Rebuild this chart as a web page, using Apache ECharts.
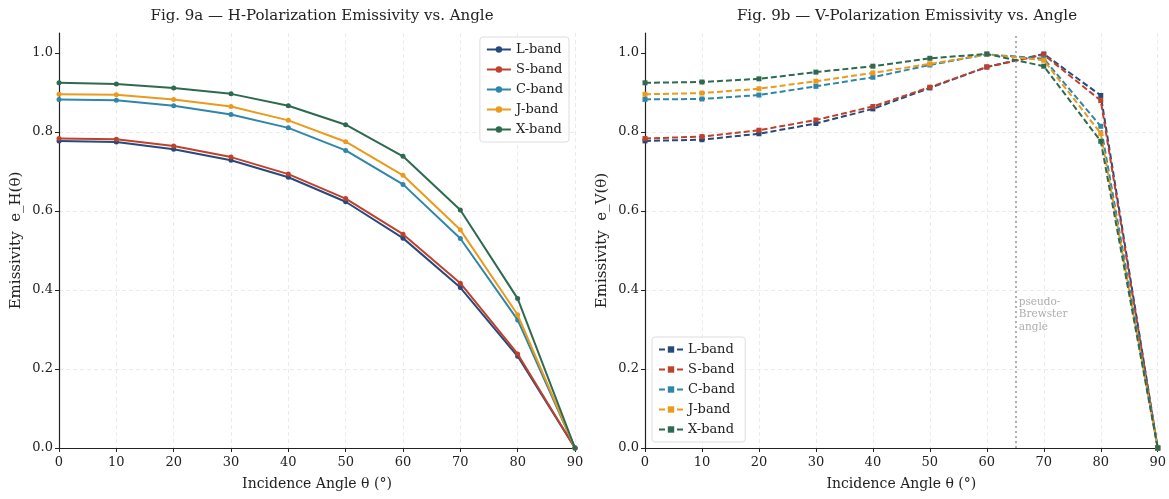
<!DOCTYPE html>
<html><head><meta charset="utf-8">
<script src="https://cdn.jsdelivr.net/npm/echarts@6/dist/echarts.min.js"></script>
<style>html,body{margin:0;padding:0;background:#fff}#c{width:1169px;height:499px}</style>
</head><body><div id="c"></div>
<script>
const angles = [0,10,20,30,40,50,60,70,80,90];
const bands = ['L-band','S-band','C-band','J-band','X-band'];
const colors = ['#274a7c','#c0412b','#2e86ab','#eb9a1c','#2d6a4f'];
const yTicks = [0,0.2,0.4,0.6,0.8,1.0];
const xTicks = [0,10,20,30,40,50,60,70,80,90];
// H-polarization
const hL = [0.777,0.774,0.756,0.728,0.685,0.623,0.531,0.406,0.232,0];
const hS = [0.783,0.781,0.764,0.736,0.693,0.631,0.541,0.417,0.238,0];
const hC = [0.882,0.880,0.866,0.844,0.810,0.753,0.667,0.530,0.324,0];
const hJ = [0.895,0.894,0.882,0.864,0.829,0.775,0.690,0.552,0.337,0];
const hX = [0.924,0.921,0.911,0.896,0.866,0.818,0.738,0.602,0.378,0];
// V-polarization
const vL = [0.777,0.780,0.795,0.821,0.858,0.911,0.964,0.997,0.892,0];
const vS = [0.783,0.788,0.804,0.830,0.864,0.913,0.964,0.995,0.879,0];
const vC = [0.882,0.883,0.893,0.915,0.938,0.969,0.996,0.985,0.814,0];
const vJ = [0.895,0.898,0.909,0.928,0.949,0.972,0.996,0.981,0.796,0];
const vX = [0.924,0.926,0.934,0.951,0.966,0.986,0.997,0.966,0.776,0];
const brewsterAngle = 65;
const brewsterLabel = 'pseudo-\nBrewster\nangle';
const brewsterLabelPos = [65.6, 0.385];

const hSets = [hL,hS,hC,hJ,hX];
const vSets = [vL,vS,vC,vJ,vX];
const FONT = 'DejaVu Serif';
const toPts = arr => angles.map((a,i)=>[a,arr[i]]);

function xAx(idx){
  return {type:'value',gridIndex:idx,min:0,max:90,interval:10,
    name:'Incidence Angle θ (°)',nameLocation:'middle',nameGap:29,
    nameTextStyle:{fontFamily:FONT,fontSize:14,color:'#222'},
    axisLine:{lineStyle:{color:'#222',width:1.2}},
    axisTick:{show:true,length:4,lineStyle:{color:'#222'},customValues:xTicks},
    axisLabel:{fontFamily:FONT,fontSize:13,color:'#222',margin:8,customValues:xTicks},
    splitLine:{show:true,lineStyle:{color:'#e6e6e6',type:[4,3],width:0.8}}};
}
function yAx(idx,name){
  return {type:'value',gridIndex:idx,min:0,max:1.05,
    name:name,nameLocation:'middle',nameGap:35,
    nameTextStyle:{fontFamily:FONT,fontSize:15,color:'#222'},
    axisLine:{show:true,lineStyle:{color:'#222',width:1.2}},
    axisTick:{show:true,length:4,lineStyle:{color:'#222'},customValues:yTicks},
    axisLabel:{fontFamily:FONT,fontSize:13,color:'#222',margin:6,customValues:yTicks,formatter:v=>v.toFixed(1)},
    splitLine:{show:true,showMaxLine:false,showMinLine:false,lineStyle:{color:'#e6e6e6',type:[4,3],width:0.8}}};
}

const series = [];
bands.forEach((b,i)=>{
  series.push({name:b,type:'line',xAxisIndex:0,yAxisIndex:0,data:toPts(hSets[i]),
    symbol:'circle',symbolSize:5,showSymbol:true,color:colors[i],
    lineStyle:{width:2,color:colors[i]},itemStyle:{color:colors[i]},z:3+i});
});
bands.forEach((b,i)=>{
  series.push({name:b+' ',type:'line',xAxisIndex:1,yAxisIndex:1,data:toPts(vSets[i]),
    symbol:'rect',symbolSize:5,showSymbol:true,color:colors[i],
    lineStyle:{width:2,type:[6,3],color:colors[i]},itemStyle:{color:colors[i]},z:3+i});
});
series.push({type:'scatter',xAxisIndex:1,yAxisIndex:1,data:[brewsterLabelPos],symbolSize:0,silent:true,
  label:{show:true,position:[0,0],align:'left',verticalAlign:'top',formatter:brewsterLabel,
    fontFamily:FONT,fontSize:10.5,color:'#999',lineHeight:12.5},
  markLine:{silent:true,symbol:'none',label:{show:false},
    lineStyle:{color:'#999',type:[2,3],width:1.5},data:[{xAxis:brewsterAngle}]}});

const legendBase = {orient:'vertical',itemWidth:24,itemHeight:8,itemGap:7,
  textStyle:{fontFamily:FONT,fontSize:13,color:'#222'},
  borderColor:'#ddd',borderWidth:1,borderRadius:3,backgroundColor:'rgba(255,255,255,0.85)',padding:[6,6,6,6]};

const option = {
  animation:false,
  title:[
    {text:'Fig. 9a — H-Polarization Emissivity vs. Angle',left:317,top:4,textAlign:'center',
     textStyle:{fontFamily:FONT,fontSize:15,fontWeight:'normal',color:'#222'}},
    {text:'Fig. 9b — V-Polarization Emissivity vs. Angle',left:902,top:4,textAlign:'center',
     textStyle:{fontFamily:FONT,fontSize:15,fontWeight:'normal',color:'#222'}}
  ],
  grid:[
    {left:59,right:594,top:33,bottom:51},
    {left:645,right:9,top:33,bottom:51}
  ],
  xAxis:[xAx(0),xAx(1)],
  yAxis:[yAx(0,'Emissivity  e_H(θ)'),yAx(1,'Emissivity  e_V(θ)')],
  legend:[
    Object.assign({},legendBase,{data:bands,right:600,top:37}),
    Object.assign({},legendBase,{data:bands.map(b=>b+' '),left:652,bottom:57})
  ],
  series:series
};
const chart = echarts.init(document.getElementById('c'),null,{renderer:'canvas'});
chart.setOption(option);
</script></body></html>
